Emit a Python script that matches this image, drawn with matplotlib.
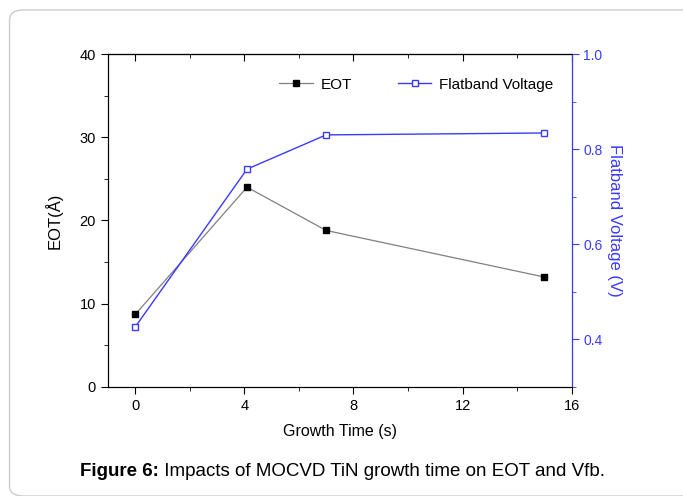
import matplotlib
matplotlib.use("Agg")
import matplotlib.pyplot as plt
from matplotlib.patches import FancyBboxPatch
from matplotlib.ticker import MultipleLocator

plt.rcParams["font.family"] = ["Liberation Sans", "DejaVu Sans"]

growth_time = [0, 4.1, 7, 15]
eot = [8.7, 24.0, 18.8, 13.2]
vfb = [0.426, 0.758, 0.830, 0.834]

blue = "#3a3aff"

fig = plt.figure(figsize=(6.83, 4.96), dpi=100)

# rounded frame around the figure panel
frame = FancyBboxPatch((0.014, 0.0), 1.2, 0.98, boxstyle="round,pad=0,rounding_size=0.02",
                       transform=fig.transFigure, fc="none", ec="#cccccc", lw=1.0, zorder=-1)
fig.patches.append(frame)

ax = fig.add_axes([0.158, 0.22, 0.679, 0.671])
ax.plot(growth_time, eot, color="#808080", lw=0.9, marker="s", ms=5,
        mfc="black", mec="black", label="EOT")
ax.set_xlim(-1, 16)
ax.set_ylim(0, 40)
ax.xaxis.set_major_locator(MultipleLocator(4))
ax.xaxis.set_minor_locator(MultipleLocator(2))
ax.yaxis.set_major_locator(MultipleLocator(10))
ax.yaxis.set_minor_locator(MultipleLocator(5))
ax.tick_params(axis="both", which="both", direction="out", labelsize=10.5)
ax.tick_params(which="major", length=5)
ax.tick_params(which="minor", length=3)
ax.set_xlabel("Growth Time (s)", fontsize=11.5, labelpad=8)
ax.set_ylabel("EOT(Å)", fontsize=12, labelpad=12)

# top axis: inward ticks, no labels
top = ax.secondary_xaxis("top")
top.xaxis.set_major_locator(MultipleLocator(4))
top.xaxis.set_minor_locator(MultipleLocator(2))
top.tick_params(which="both", direction="in", labeltop=False)
top.tick_params(which="major", length=5)
top.tick_params(which="minor", length=3)

ax2 = ax.twinx()
ax2.plot(growth_time, vfb, color=blue, lw=1.0, marker="s", ms=5,
         mfc="white", mec=blue, label="Flatband Voltage")
ax2.set_ylim(0.3, 1.0)
ax2.yaxis.set_major_locator(MultipleLocator(0.2))
ax2.yaxis.set_minor_locator(MultipleLocator(0.1))
ax2.tick_params(axis="y", which="both", direction="out", colors=blue, labelsize=10)
ax2.tick_params(which="major", length=5)
ax2.tick_params(which="minor", length=3)
ax2.spines["right"].set_color(blue)
ax2.set_ylabel("Flatband Voltage (V)", color=blue, fontsize=12, rotation=-90, labelpad=14)

h1, l1 = ax.get_legend_handles_labels()
h2, l2 = ax2.get_legend_handles_labels()
ax2.legend(h1 + h2, l1 + l2, loc="upper right", bbox_to_anchor=(0.99, 0.97), ncol=2,
           frameon=False, fontsize=11, handlelength=2.2, handletextpad=0.5, columnspacing=3.0)

cap = fig.text(0.117, 0.04, "Figure 6:", fontsize=13.5, fontweight="bold")
fig.text(0, 0, " Impacts of MOCVD TiN growth time on EOT and Vfb.", fontsize=13.5,
         transform=cap.get_transform())
fig.canvas.draw()
r = fig.canvas.get_renderer()
bb = cap.get_window_extent(r).transformed(fig.transFigure.inverted())
fig.texts[-1].set_position((bb.x1, 0.04))

fig.savefig("out.png", dpi=100)
